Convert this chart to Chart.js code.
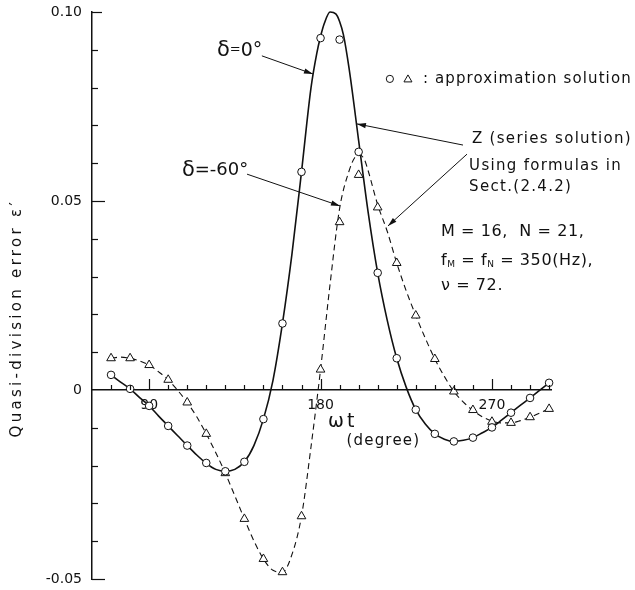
<!DOCTYPE html>
<html>
<head>
<meta charset="utf-8">
<script src="https://cdn.jsdelivr.net/npm/chart.js@4.4.0/dist/chart.umd.min.js"></script>
<style>
  html, body { margin: 0; background: #fff; }
  canvas { display: block; }
</style>
</head>
<body>
<canvas id="chart" width="635" height="590"></canvas>
<script>
// approximation solution, sampled every 10 degrees of wt
const markerDeg = [70, 80, 90, 100, 110, 120, 130, 140, 150, 160, 170, 180,
  190, 200, 210, 220, 230, 240, 250, 260, 270, 280, 290, 300];
const circleErr = [0.004, 0.0003, -0.0042, -0.0095, -0.0147, -0.0193, -0.0215, -0.019,
  -0.0077, 0.0176, 0.0577, 0.0931, 0.0927, 0.063, 0.031, 0.0084, -0.0052, -0.0116,
  -0.0136, -0.0126, -0.0099, -0.006, -0.0021, 0.0019];
const triangleErr = [0.0084, 0.0084, 0.0066, 0.0027, -0.0033, -0.0116, -0.022, -0.0341,
  -0.0447, -0.0482, -0.0334, 0.0054, 0.0444, 0.0569, 0.0483, 0.0336, 0.0197, 0.0082,
  -0.0004, -0.0053, -0.0084, -0.0087, -0.0072, -0.005];

// Z (series solution), delta = 0 deg
const solidDeg = [70, 75, 80, 85, 90, 95, 100, 105, 110, 115, 120, 125, 130, 135, 140, 145,
  150, 155, 160, 165, 170, 175, 178, 180, 182, 185, 188, 190, 192, 195, 200, 205, 210, 215,
  220, 225, 230, 235, 240, 245, 250, 255, 260, 265, 270, 275, 280, 285, 290, 295, 300];
const solidErr = [0.004, 0.0021, 0.0003, -0.002, -0.0042, -0.0069, -0.0095, -0.0121, -0.0147,
  -0.0172, -0.0194, -0.021, -0.0215, -0.021, -0.019, -0.0147, -0.0077, 0.0025, 0.0176, 0.036,
  0.0577, 0.08, 0.089, 0.0935, 0.097, 0.1, 0.0995, 0.0975, 0.094, 0.085, 0.066, 0.047, 0.031,
  0.0185, 0.0084, 0.0007, -0.0052, -0.009, -0.0116, -0.013, -0.0136, -0.0133, -0.0126,
  -0.0113, -0.0099, -0.008, -0.006, -0.004, -0.0021, -0.0001, 0.0019];

// Z (series solution), delta = -60 deg
const dashedDeg = [70, 75, 80, 85, 90, 95, 100, 105, 110, 115, 120, 125, 130, 135, 140, 145,
  150, 155, 160, 165, 170, 175, 180, 185, 190, 195, 198, 200.5, 203, 205, 210, 215, 220, 225,
  230, 235, 240, 245, 250, 255, 260, 265, 270, 275, 280, 285, 290, 295, 300];
const dashedErr = [0.0084, 0.0087, 0.0084, 0.0077, 0.0066, 0.0048, 0.0027, -0.0001, -0.0033,
  -0.0071, -0.0116, -0.0166, -0.022, -0.028, -0.0341, -0.0399, -0.0447, -0.0477, -0.0482,
  -0.0435, -0.0334, -0.015, 0.0054, 0.028, 0.048, 0.058, 0.0615, 0.0622, 0.061, 0.058, 0.049,
  0.042, 0.0336, 0.0262, 0.0197, 0.0137, 0.0082, 0.0036, -0.0004, -0.0032, -0.0054, -0.0071,
  -0.0082, -0.0087, -0.0087, -0.0081, -0.0072, -0.0061, -0.005];

const xMajor = [90, 180, 270];
const yMajor = [-0.05, 0.05, 0.1];

const ink = '#111';
const font = '"DejaVu Sans", sans-serif';

function pairs(xs, ys) {
  return xs.map((v, i) => ({ x: v, y: ys[i] }));
}

function arrow(ctx, x1, y1, x2, y2) {
  ctx.beginPath();
  ctx.moveTo(x1, y1);
  ctx.lineTo(x2, y2);
  ctx.stroke();
  const a = Math.atan2(y2 - y1, x2 - x1);
  const len = 9, half = 2.6;
  ctx.beginPath();
  ctx.moveTo(x2, y2);
  ctx.lineTo(x2 - len * Math.cos(a) + half * Math.sin(a), y2 - len * Math.sin(a) - half * Math.cos(a));
  ctx.lineTo(x2 - len * Math.cos(a) - half * Math.sin(a), y2 - len * Math.sin(a) + half * Math.cos(a));
  ctx.closePath();
  ctx.fill();
}

// draws text pieces left to right, a piece may be lowered as a subscript
function runs(ctx, x, y, parts) {
  parts.forEach(([txt, size, dy]) => {
    ctx.font = size + 'px ' + font;
    ctx.fillText(txt, x, y + (dy || 0));
    x += ctx.measureText(txt).width;
  });
}

// keep the plot box where the figure has it, labels may hang over its edges
function noOverhang(scale) {
  scale.paddingTop = 0;
  scale.paddingBottom = 0;
  scale.paddingLeft = 0;
  scale.paddingRight = 0;
}

// inward tick marks, annotations and titles, all placed through the chart scales
const inkPlugin = {
  id: 'ink',
  afterDraw(chart) {
    const { ctx, scales: { x, y } } = chart;
    const X = (v) => x.getPixelForValue(v);
    const Y = (v) => y.getPixelForValue(v);
    ctx.save();
    ctx.strokeStyle = ink;
    ctx.fillStyle = ink;
    ctx.lineWidth = 1.2;

    x.ticks.forEach((t) => {
      if (t.value <= x.min) return;
      const len = xMajor.includes(t.value) ? 11 : 5;
      const px = Math.round(X(t.value)) + 0.5;
      ctx.beginPath();
      ctx.moveTo(px, Y(0));
      ctx.lineTo(px, Y(0) - len);
      ctx.stroke();
    });
    y.ticks.forEach((t) => {
      const v = Math.round(t.value * 100) / 100;
      if (v === 0) return;
      const len = yMajor.includes(v) ? (v === 0.1 ? 10 : 13) : 6;
      const py = Math.round(Y(v)) + 0.5;
      ctx.beginPath();
      ctx.moveTo(X(x.min), py);
      ctx.lineTo(X(x.min) + len, py);
      ctx.stroke();
    });

    // arrows pointing at the curves
    ctx.lineWidth = 1;
    arrow(ctx, X(149.2), Y(0.0884), X(176), Y(0.0836));
    arrow(ctx, X(141.4), Y(0.0571), X(190.2), Y(0.0487));
    arrow(ctx, X(254.8), Y(0.0648), X(199.1), Y(0.0704));
    arrow(ctx, X(256.9), Y(0.0624), X(215.4), Y(0.0434));

    ctx.textBaseline = 'middle';
    ctx.textAlign = 'left';
    ctx.letterSpacing = '0px';
    runs(ctx, X(125.6), Y(0.0897), [['δ', 21], ['=', 13, -1], ['0°', 19]]);
    runs(ctx, X(107.2), Y(0.058), [['δ', 21], ['=-60°', 18]]);

    // legend for the markers
    ctx.beginPath();
    ctx.arc(X(216.4), Y(0.0823), 3.6, 0, Math.PI * 2);
    ctx.stroke();
    const tx = X(225.9), ty = Y(0.0823);
    ctx.beginPath();
    ctx.moveTo(tx, ty - 4);
    ctx.lineTo(tx + 4, ty + 3);
    ctx.lineTo(tx - 4, ty + 3);
    ctx.closePath();
    ctx.stroke();

    ctx.letterSpacing = '1.1px';
    runs(ctx, X(233.8), Y(0.0823), [[': approximation solution', 15]]);
    ctx.letterSpacing = '1.3px';
    runs(ctx, X(259.5), Y(0.0664), [['Z (series solution)', 15]]);
    runs(ctx, X(258), Y(0.0593), [['Using formulas in', 15]]);
    runs(ctx, X(258), Y(0.0537), [['Sect.(2.4.2)', 15]]);
    ctx.letterSpacing = '0.6px';
    runs(ctx, X(243.2), Y(0.0418), [['M = 16,  N = 21,', 16]]);
    runs(ctx, X(243.2), Y(0.0341), [['f', 16], ['M', 9, 4], [' = f', 16], ['N', 9, 4], [' = 350(Hz),', 16]]);
    runs(ctx, X(243.2), Y(0.0275), [['ν = 72.', 16]]);

    // axis titles
    ctx.letterSpacing = '3px';
    runs(ctx, X(183.9), Y(-0.0085), [['ωt', 19]]);
    ctx.letterSpacing = '1.2px';
    runs(ctx, X(193.6), Y(-0.0136), [['(degree)', 15]]);

    ctx.save();
    ctx.translate(17, Y(0.019));
    ctx.rotate(-Math.PI / 2);
    ctx.textAlign = 'center';
    ctx.letterSpacing = '3.3px';
    ctx.font = '15px ' + font;
    ctx.fillText('Quasi-division error ε′', 0, 0);
    ctx.restore();

    ctx.restore();
  }
};

new Chart(document.getElementById('chart'), {
  type: 'line',
  data: {
    datasets: [
      {
        data: pairs(markerDeg, circleErr),
        showLine: false,
        pointStyle: 'circle',
        pointRadius: 3.8,
        pointBackgroundColor: '#fff',
        pointBorderColor: ink,
        pointBorderWidth: 1,
        clip: false
      },
      {
        data: pairs(markerDeg, triangleErr),
        showLine: false,
        pointStyle: 'triangle',
        pointRadius: 5,
        pointBackgroundColor: '#fff',
        pointBorderColor: ink,
        pointBorderWidth: 1,
        clip: false
      },
      {
        data: pairs(solidDeg, solidErr),
        borderColor: ink,
        borderWidth: 1.6,
        pointRadius: 0,
        cubicInterpolationMode: 'monotone',
        clip: false
      },
      {
        data: pairs(dashedDeg, dashedErr),
        borderColor: ink,
        borderWidth: 1.1,
        borderDash: [6, 4],
        pointRadius: 0,
        cubicInterpolationMode: 'monotone',
        clip: false
      }
    ]
  },
  options: {
    responsive: false,
    animation: false,
    devicePixelRatio: 1,
    layout: { padding: { left: 0, top: 12, right: 84, bottom: 11 } },
    plugins: { legend: { display: false }, tooltip: { enabled: false } },
    scales: {
      x: {
        type: 'linear',
        min: 60,
        max: 301,
        position: { y: 0 },
        afterFit: noOverhang,
        grid: { drawOnChartArea: false, drawTicks: false },
        border: { display: true, color: ink, width: 1.5 },
        ticks: {
          stepSize: 10,
          autoSkip: false,
          includeBounds: false,
          maxRotation: 0,
          padding: 7,
          color: ink,
          font: { family: font, size: 14 },
          callback: (v) => (xMajor.includes(v) ? String(v) : '')
        }
      },
      y: {
        type: 'linear',
        min: -0.05,
        max: 0.1,
        position: 'left',
        afterFit: (scale) => { scale.width = 92; noOverhang(scale); },
        grid: { drawOnChartArea: false, drawTicks: false },
        border: { display: true, color: ink, width: 1.5 },
        ticks: {
          stepSize: 0.01,
          autoSkip: false,
          padding: 10,
          color: ink,
          font: { family: font, size: 14 },
          callback: (v) => {
            const k = Math.round(v * 100);
            if (k === 0) return '0';
            if (k % 5 !== 0) return '';
            return (k / 100).toFixed(2);
          }
        }
      }
    }
  },
  plugins: [inkPlugin]
});
</script>
</body>
</html>
